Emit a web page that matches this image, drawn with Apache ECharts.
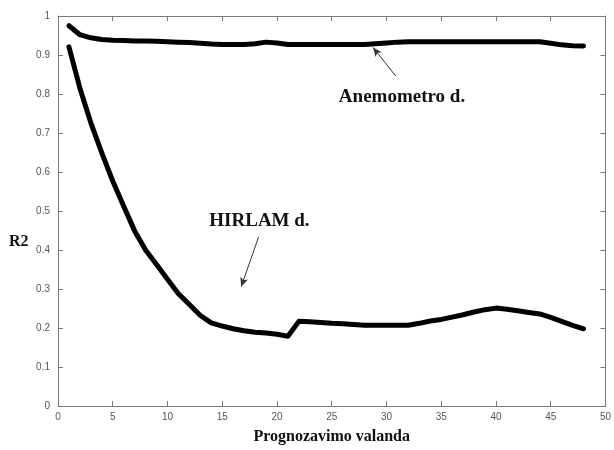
<!DOCTYPE html>
<html>
<head>
<meta charset="utf-8">
<script src="https://cdn.jsdelivr.net/npm/echarts@6/dist/echarts.min.js"></script>
<style>
  html, body { margin: 0; padding: 0; background: #fff; }
  #chart { width: 614px; height: 450px; }
</style>
</head>
<body>
<div id="chart"></div>
<script>
// Forecast hours
const hours = [1,2,3,4,5,6,7,8,9,10,11,12,13,14,15,16,17,18,19,20,21,22,23,24,
               25,26,27,28,29,30,31,32,33,34,35,36,37,38,39,40,41,42,43,44,45,46,47,48];

// R2 for anemometer data
const anemometro = [0.975,0.952,0.944,0.940,0.938,0.937,0.936,0.936,0.935,0.934,0.933,0.932,0.930,0.928,0.927,0.927,0.927,0.929,0.933,0.931,0.927,0.927,
                    0.927,0.927,0.927,0.927,0.927,0.927,0.929,0.931,0.933,0.934,0.934,0.934,0.934,0.934,0.934,0.934,0.934,0.934,0.934,0.934,0.934,0.934,0.930,0.926,0.924,0.923];

// R2 for HIRLAM data
const hirlam = [0.921,0.815,0.726,0.649,0.577,0.512,0.449,0.400,0.363,0.325,0.288,0.260,0.232,0.213,0.205,0.198,0.193,0.189,0.187,0.184,0.179,0.217,
                0.216,0.214,0.212,0.211,0.209,0.207,0.207,0.207,0.207,0.207,0.212,0.218,0.222,0.228,0.234,0.241,0.247,0.251,0.248,0.244,0.240,0.236,0.227,0.217,0.207,0.198];

const xTicks = { min: 0, max: 50, interval: 5 };
const yTicks = { min: 0, max: 1, interval: 0.1 };

const axisColor = '#7a7a7a';
const labelColor = '#555';
const serif = '"Liberation Serif", "DejaVu Serif", serif';
const sans = '"Liberation Sans", Arial, sans-serif';

const chart = echarts.init(document.getElementById('chart'), null, { renderer: 'canvas' });

function pairs(ys) { return hours.map((h, i) => [h, ys[i]]); }

const tickCommon = { show: true, inside: true, length: 5, lineStyle: { color: axisColor, width: 1 } };

chart.setOption({
  animation: false,
  backgroundColor: '#fff',
  // y-axis title sits a little below the middle of the axis
  title: {
    text: 'R2', left: 9, top: 234, padding: 0,
    textStyle: { fontFamily: serif, fontWeight: 'bold', fontSize: 16, color: '#111' }
  },
  grid: { left: 58, right: 7, top: 16, bottom: 37, containLabel: false },
  xAxis: [
    {
      type: 'value', position: 'bottom', ...xTicks,
      axisLine: { show: true, onZero: false, lineStyle: { color: axisColor, width: 1 } },
      axisTick: tickCommon,
      axisLabel: { color: labelColor, fontFamily: sans, fontSize: 10, margin: 6 },
      splitLine: { show: false },
      name: 'Prognozavimo valanda', nameLocation: 'middle', nameGap: 23,
      nameTextStyle: { fontFamily: serif, fontWeight: 'bold', fontSize: 16, color: '#111' }
    },
    {
      type: 'value', position: 'top', ...xTicks,
      axisLine: { show: true, onZero: false, lineStyle: { color: axisColor, width: 1 } },
      axisTick: tickCommon, axisLabel: { show: false }, splitLine: { show: false }
    }
  ],
  yAxis: [
    {
      type: 'value', position: 'left', ...yTicks,
      axisLine: { show: true, onZero: false, lineStyle: { color: axisColor, width: 1 } },
      axisTick: tickCommon,
      axisLabel: { color: labelColor, fontFamily: sans, fontSize: 10, margin: 8 },
      splitLine: { show: false }
    },
    {
      type: 'value', position: 'right', ...yTicks,
      axisLine: { show: true, onZero: false, lineStyle: { color: axisColor, width: 1 } },
      axisTick: tickCommon, axisLabel: { show: false }, splitLine: { show: false }
    }
  ],
  series: [
    {
      name: 'Anemometro d.', type: 'line', data: pairs(anemometro),
      showSymbol: false, symbol: 'none',
      lineStyle: { color: '#000', width: 5, cap: 'round', join: 'round' },
      markLine: {
        silent: true, symbol: ['none', 'arrow'], symbolSize: [6, 9],
        lineStyle: { color: '#333', width: 1, type: 'solid' },
        label: { show: false },
        data: [[{ coord: [30.85, 0.846] }, { coord: [28.78, 0.919] }]]
      },
      markPoint: {
        silent: true, symbol: 'circle', symbolSize: 0,
        label: { show: true, position: 'inside', formatter: 'Anemometro d.',
                 fontFamily: serif, fontWeight: 'bold', fontSize: 19, color: '#111' },
        data: [{ coord: [31.42, 0.793] }]
      }
    },
    {
      name: 'HIRLAM d.', type: 'line', data: pairs(hirlam),
      showSymbol: false, symbol: 'none',
      lineStyle: { color: '#000', width: 5, cap: 'round', join: 'round' },
      markLine: {
        silent: true, symbol: ['none', 'arrow'], symbolSize: [6, 9],
        lineStyle: { color: '#333', width: 1, type: 'solid' },
        label: { show: false },
        data: [[{ coord: [18.33, 0.434] }, { coord: [16.73, 0.306] }]]
      },
      markPoint: {
        silent: true, symbol: 'circle', symbolSize: 0,
        label: { show: true, position: 'inside', formatter: 'HIRLAM d.',
                 fontFamily: serif, fontWeight: 'bold', fontSize: 19, color: '#111' },
        data: [{ coord: [18.4, 0.474] }]
      }
    }
  ]
});
</script>
</body>
</html>
